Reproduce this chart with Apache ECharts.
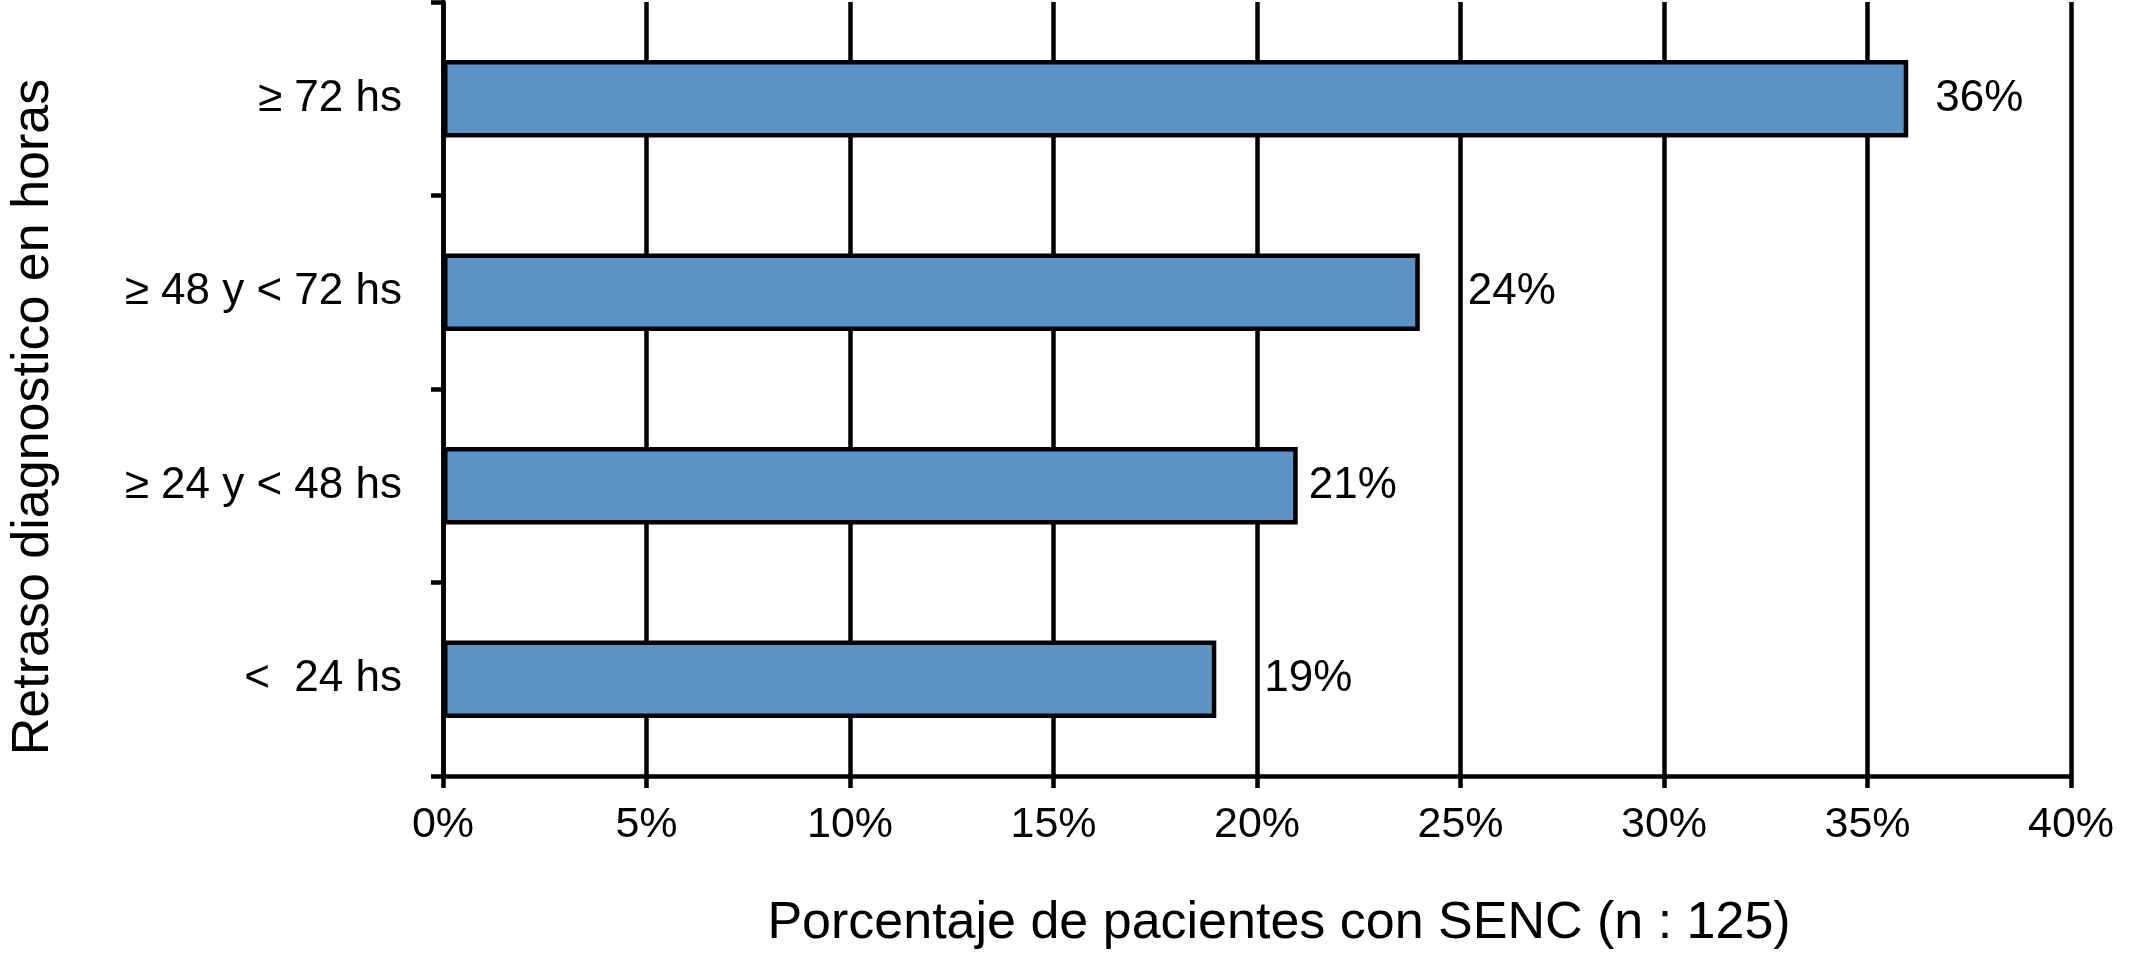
<!DOCTYPE html>
<html>
<head>
<meta charset="utf-8">
<script src="https://cdn.jsdelivr.net/npm/echarts@6/dist/echarts.min.js"></script>
<style>
html,body{margin:0;padding:0;background:#fff;}
#chart{width:2129px;height:964px;}
</style>
</head>
<body>
<div id="chart"></div>
<script>
// ---- data ----
var categories = ['<  24 hs', '≥ 24 y < 48 hs', '≥ 48 y < 72 hs', '≥ 72 hs'];
var values = [19, 21, 24, 36];
var xTicks = [0, 5, 10, 15, 20, 25, 30, 35, 40];
var xTitle = 'Porcentaje de pacientes con SENC (n : 125)';
var yTitle = 'Retraso diagnostico en horas';

// ---- style ----
var labelGaps = [48, 11, 48, 27];
var FONT = '"Liberation Sans", Arial, Helvetica, sans-serif';
var LINE = {color: '#000', width: 4.5};

var chart = echarts.init(document.getElementById('chart'), null, {renderer: 'canvas'});
chart.setOption({
  backgroundColor: '#fff',
  animation: false,
  grid: {left: 439, right: 58, top: 2, bottom: 188, containLabel: false},
  xAxis: {
    type: 'value',
    min: xTicks[0],
    max: xTicks[xTicks.length - 1],
    interval: xTicks[1] - xTicks[0],
    name: xTitle,
    nameLocation: 'middle',
    nameGap: 122,
    nameTextStyle: {fontFamily: FONT, fontSize: 52, color: '#000', padding: [0, 0, 0, 44]},
    axisLine: {show: true, lineStyle: LINE},
    axisTick: {show: true, length: 12, lineStyle: LINE},
    splitLine: {show: true, lineStyle: LINE},
    axisLabel: {formatter: '{value}%', fontFamily: FONT, fontSize: 43, color: '#000', margin: 28}
  },
  yAxis: {
    type: 'category',
    data: categories,
    name: yTitle,
    nameLocation: 'middle',
    nameGap: 383,
    nameRotate: 90,
    nameTextStyle: {fontFamily: FONT, fontSize: 52, color: '#000', padding: [0, 56, 0, 0]},
    axisLine: {show: true, lineStyle: LINE},
    axisTick: {show: true, length: 12, alignWithLabel: false, lineStyle: LINE},
    splitLine: {show: false},
    axisLabel: {fontFamily: FONT, fontSize: 44, color: '#000', margin: 41}
  },
  series: [{
    type: 'bar',
    barWidth: '40%',
    data: values.map(function (v, i) {
      return {value: v, label: {distance: labelGaps[i]}};
    }),
    itemStyle: {color: '#5b93c7', borderColor: '#000', borderWidth: 4.5},
    label: {
      show: true,
      position: 'right',
      formatter: '{c}%',
      fontFamily: FONT,
      fontSize: 44,
      color: '#000'
    }
  }]
});
</script>
</body>
</html>
